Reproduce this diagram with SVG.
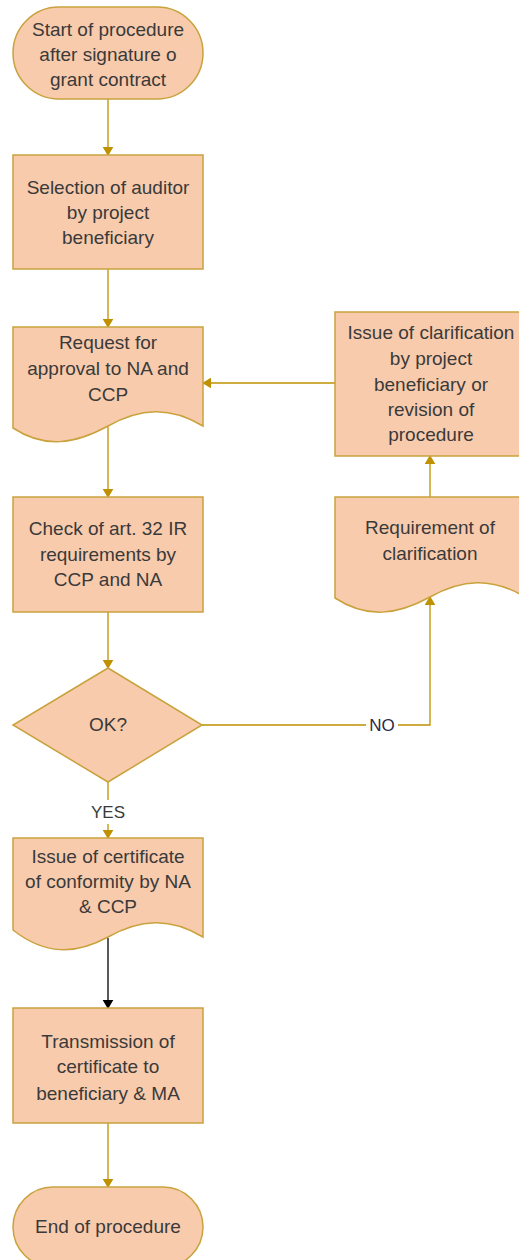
<svg xmlns="http://www.w3.org/2000/svg" width="519" height="1260" viewBox="0 0 519 1260">
  <defs>
    <marker id="ah" viewBox="0 0 10 12" refX="9" refY="6" markerWidth="9" markerHeight="12" markerUnits="userSpaceOnUse" orient="auto">
      <path d="M0,0 L10,6 L0,12 Z" fill="#BF9000"/>
    </marker>
    <marker id="ahk" viewBox="0 0 10 12" refX="9" refY="6" markerWidth="9" markerHeight="12" markerUnits="userSpaceOnUse" orient="auto">
      <path d="M0,0 L10,6 L0,12 Z" fill="#000000"/>
    </marker>
  </defs>
  <style>
    .shape { fill: #F8CBAD; stroke: #C9A23C; stroke-width: 1.5; }
    .lbl { font-family: "Liberation Sans", Arial, sans-serif; font-size: 19px; fill: #3a3a3a; text-anchor: middle; }
    .conn { fill: none; stroke: #BF9000; stroke-width: 1.3; }
    .connk { fill: none; stroke: #000000; stroke-width: 1.3; }
    .elbl { font-family: "Liberation Sans", Arial, sans-serif; font-size: 17px; text-anchor: middle; }
  </style>
  <rect width="519" height="1260" fill="#ffffff"/>

  <g id="connectors">
    <line class="conn" x1="108" y1="99" x2="108" y2="155" marker-end="url(#ah)"/>
    <line class="conn" x1="108" y1="269" x2="108" y2="327" marker-end="url(#ah)"/>
    <line class="conn" x1="108" y1="426" x2="108" y2="497" marker-end="url(#ah)"/>
    <line class="conn" x1="108" y1="612" x2="108" y2="668" marker-end="url(#ah)"/>
    <line class="conn" x1="108" y1="782" x2="108" y2="838" marker-end="url(#ah)"/>
    <line class="connk" x1="108" y1="938" x2="108" y2="1008" marker-end="url(#ahk)"/>
    <line class="conn" x1="108" y1="1123" x2="108" y2="1187" marker-end="url(#ah)"/>
    <line class="conn" x1="335" y1="383" x2="203" y2="383" marker-end="url(#ah)"/>
    <line class="conn" x1="430" y1="497" x2="430" y2="456" marker-end="url(#ah)"/>
    <polyline class="conn" points="202,725 430,725 430,597" marker-end="url(#ah)"/>
    <rect x="90" y="800" width="36" height="24" fill="#ffffff"/>
    <text class="elbl" x="108" y="818" fill="#3a3a3a">YES</text>
    <rect x="366" y="715" width="32" height="20" fill="#ffffff"/>
    <text class="elbl" x="382" y="731" fill="#2a2a4a">NO</text>
  </g>

  <g id="start">
    <rect class="shape" x="13" y="7" width="190" height="92" rx="46" ry="46"/>
    <text class="lbl" x="108" y="36">Start of procedure</text>
    <text class="lbl" x="108" y="61">after signature o</text>
    <text class="lbl" x="108" y="86">grant contract</text>
  </g>

  <g id="selection">
    <rect class="shape" x="13" y="155" width="190" height="114"/>
    <text class="lbl" x="108" y="194">Selection of auditor</text>
    <text class="lbl" x="108" y="219">by project</text>
    <text class="lbl" x="108" y="244">beneficiary</text>
  </g>

  <g id="request">
    <path class="shape" d="M13,327 H203 V426 C170,406 140,408 108,426 C75,444 45,449 13,428 Z"/>
    <text class="lbl" x="108" y="349">Request for</text>
    <text class="lbl" x="108" y="375">approval to NA and</text>
    <text class="lbl" x="108" y="401">CCP</text>
  </g>

  <g id="check">
    <rect class="shape" x="13" y="497" width="190" height="115"/>
    <text class="lbl" x="108" y="535">Check of art. 32 IR</text>
    <text class="lbl" x="108" y="561">requirements by</text>
    <text class="lbl" x="108" y="586">CCP and NA</text>
  </g>

  <g id="ok">
    <polygon class="shape" points="108,668 202,725 108,782 13,725"/>
    <text class="lbl" x="108" y="731">OK?</text>
  </g>

  <g id="certificate">
    <path class="shape" d="M13,838 H203 V937 C170,917 140,919 108,937 C75,955 45,955 13,930 Z"/>
    <text class="lbl" x="108" y="863">Issue of certificate</text>
    <text class="lbl" x="108" y="888">of conformity by NA</text>
    <text class="lbl" x="108" y="913">&amp; CCP</text>
  </g>

  <g id="transmission">
    <rect class="shape" x="13" y="1008" width="190" height="115"/>
    <text class="lbl" x="108" y="1048">Transmission of</text>
    <text class="lbl" x="108" y="1073">certificate to</text>
    <text class="lbl" x="108" y="1100">beneficiary &amp; MA</text>
  </g>

  <g id="end">
    <rect class="shape" x="13" y="1187" width="190" height="80" rx="40" ry="40"/>
    <text class="lbl" x="108" y="1233">End of procedure</text>
  </g>

  <g id="clarification">
    <rect class="shape" x="335" y="312" width="190" height="144"/>
    <text class="lbl" x="431" y="339">Issue of clarification</text>
    <text class="lbl" x="431" y="365">by project</text>
    <text class="lbl" x="431" y="391">beneficiary or</text>
    <text class="lbl" x="431" y="416">revision of</text>
    <text class="lbl" x="431" y="441">procedure</text>
  </g>

  <g id="requirement">
    <path class="shape" d="M335,497 H525 V597 C492,577 462,579 430,597 C397,615 367,619 335,598 Z"/>
    <text class="lbl" x="430" y="534">Requirement of</text>
    <text class="lbl" x="430" y="560">clarification</text>
  </g>
</svg>
